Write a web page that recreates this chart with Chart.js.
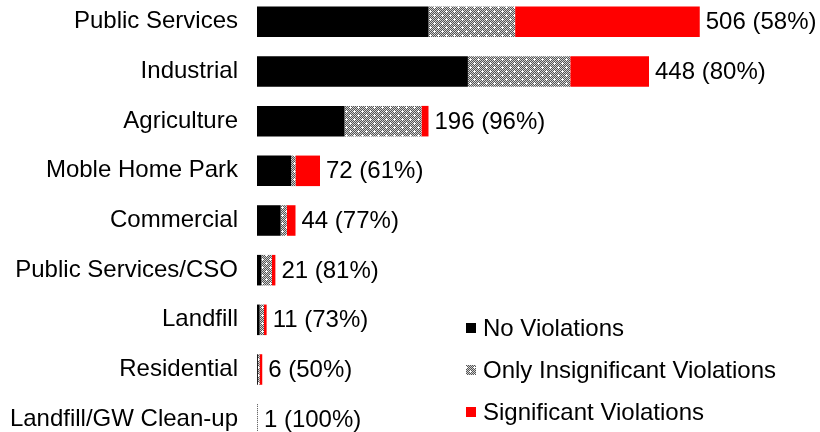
<!DOCTYPE html>
<html>
<head>
<meta charset="utf-8">
<script src="https://cdn.jsdelivr.net/npm/chart.js@4/dist/chart.umd.min.js"></script>
<style>
    html, body { margin: 0; padding: 0; background: #fff; overflow: hidden; }
    #grafica { position: absolute; left: 0; top: -3px; }
</style>
</head>
<body>
<canvas id="grafica" width="820" height="447"></canvas>
<script>
var categorias = ["Public Services", "Industrial", "Agriculture", "Moble Home Park", "Commercial",
    "Public Services/CSO", "Landfill", "Residential", "Landfill/GW Clean-up"];
var sinViolaciones = [196, 241, 100, 39, 27, 5, 3, 1, 0];
var soloInsignificantes = [99, 117, 88, 5, 7, 12, 5, 2, 1];
var significativas = [211, 90, 8, 28, 10, 4, 3, 3, 0];
var nombresSeries = ["No Violations", "Only Insignificant Violations", "Significant Violations"];

var fuente = "Liberation Sans, Arial, sans-serif";

// trama gris a cuadros con puntitos blancos
function crearTrama() {
    var c = document.createElement("canvas");
    c.width = 8;
    c.height = 8;
    var g = c.getContext("2d");
    for (var y = 0; y < 8; y++) {
        for (var x = 0; x < 8; x++) {
            g.fillStyle = (x + y) % 2 === 0 ? "#555555" : "#d0d0d0";
            g.fillRect(x, y, 1, 1);
        }
    }
    g.fillStyle = "#ffffff";
    [[2, 2], [6, 6]].forEach(function (p) {
        g.fillRect(p[0] - 1, p[1], 3, 1);
        g.fillRect(p[0], p[1] - 1, 1, 3);
    });
    return g.createPattern(c, "repeat");
}
var trama = crearTrama();

var etiquetasFinales = {
    id: "etiquetasFinales",
    afterDatasetsDraw: function (chart) {
        var ctx = chart.ctx;
        var meta = chart.getDatasetMeta(2);
        ctx.save();
        ctx.font = "24px " + fuente;
        ctx.fillStyle = "#000";
        ctx.textBaseline = "middle";
        ctx.textAlign = "left";
        for (var i = 0; i < categorias.length; i++) {
            var total = sinViolaciones[i] + soloInsignificantes[i] + significativas[i];
            var pct = Math.round((sinViolaciones[i] + soloInsignificantes[i]) / total * 100);
            var el = meta.data[i];
            ctx.fillText(total + " (" + pct + "%)", el.x + 6, el.y + 1);
        }
        ctx.restore();
    }
};

var leyenda = {
    id: "leyenda",
    afterDraw: function (chart) {
        var ctx = chart.ctx;
        var filas = [331, 373, 415];
        ctx.save();
        ctx.font = "24px " + fuente;
        ctx.textBaseline = "middle";
        ctx.textAlign = "left";
        chart.data.datasets.forEach(function (ds, k) {
            ctx.fillStyle = ds.backgroundColor;
            ctx.fillRect(466, filas[k] - 5, 10, 10);
            ctx.fillStyle = "#000";
            ctx.fillText(ds.label, 483, filas[k] + 1);
        });
        ctx.restore();
    }
};

new Chart(document.getElementById("grafica"), {
    type: "bar",
    data: {
        labels: categorias,
        datasets: [
            { label: nombresSeries[0], data: sinViolaciones, backgroundColor: "#000000" },
            { label: nombresSeries[1], data: soloInsignificantes, backgroundColor: trama },
            { label: nombresSeries[2], data: significativas, backgroundColor: "#ff0000" }
        ]
    },
    options: {
        indexAxis: "y",
        responsive: false,
        animation: false,
        layout: { padding: { left: 0, right: 38, top: 0, bottom: 0 } },
        datasets: { bar: { categoryPercentage: 1, barPercentage: 0.615, borderWidth: 0 } },
        plugins: { legend: { display: false }, tooltip: { enabled: false } },
        scales: {
            x: { stacked: true, display: false, min: 0, max: 600 },
            y: {
                stacked: true,
                grid: { display: false, drawTicks: false },
                border: { display: false },
                ticks: { color: "#000", padding: 19, autoSkip: false, font: { family: fuente, size: 24 } },
                afterFit: function (scale) {
                    scale.width = 257;
                    scale.paddingTop = 0;
                    scale.paddingBottom = 0;
                }
            }
        }
    },
    plugins: [etiquetasFinales, leyenda]
});
</script>
</body>
</html>
